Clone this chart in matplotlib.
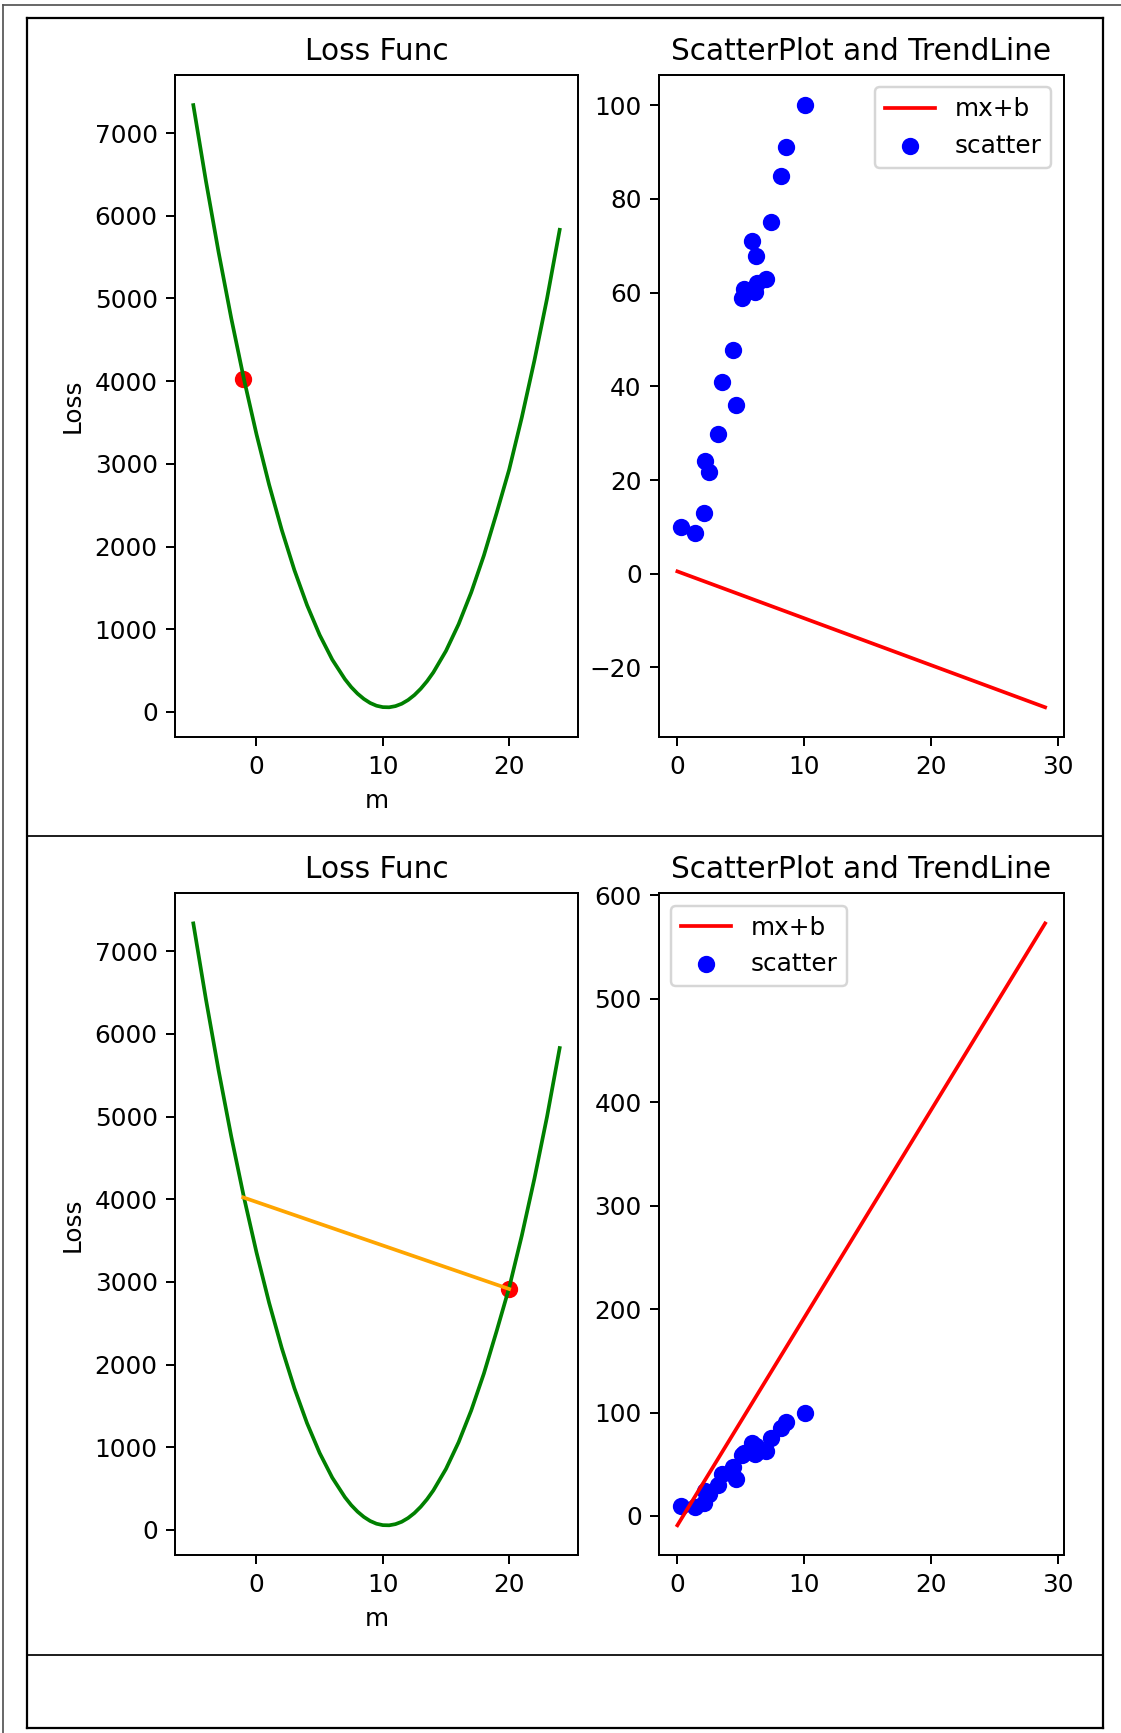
import numpy as np
import matplotlib.pyplot as plt
from matplotlib.lines import Line2D

# Loss egri chizig'i (m bo'yicha) - rasmdan o'qilgan qiymatlar
m_vals = [-5, -4, -3, -2, -1, 0, 1, 2, 3, 4, 5, 6, 7, 7.5, 8, 8.5, 9, 9.5,
          10, 10.5, 11, 11.5, 12, 12.5, 13, 13.5, 14, 15, 16, 17, 18, 19,
          20, 21, 22, 23, 24]
loss_vals = [7338, 6418, 5560, 4763, 4029, 3358, 2748, 2201, 1715, 1292,
             931, 632, 396, 300, 221, 157, 108, 75, 58, 56, 70, 99, 144,
             204, 280, 371, 478, 738, 1061, 1446, 1892, 2401, 2930, 3560,
             4250, 5000, 5830]

# Nuqtalar (scatter)
xs = [0.32, 1.38, 2.09, 2.2, 2.49, 3.2, 3.52, 4.63, 4.37, 5.08,
      5.26, 5.87, 6.19, 6.14, 6.27, 6.98, 7.35, 8.17, 8.6, 10.05]
ys = [9.9, 8.6, 12.9, 24.1, 21.7, 29.8, 40.9, 36.0, 47.8, 58.8,
      60.8, 70.9, 67.7, 60.1, 62.0, 62.9, 75.0, 84.9, 91.0, 100.0]

# 1-qadam: joriy m va loss, trend chizig'i
step1_m, step1_loss = [-1.05], [4023]
line1_x = [0, 29]
line1_y = [0.5, -28.5]

# 2-qadam
step2_m, step2_loss = [20.0], [2915]
path_m = [-1.05, 20.0]
path_loss = [4023, 2915]
line2_x = [0, 29]
line2_y = [-9, 573]

W, H = 1121, 1733
DPI = 178
fig = plt.figure(figsize=(W / DPI, H / DPI), dpi=DPI)


def box(left, top, right, bottom):
    # piksel -> figura koordinatalari
    return [left / W, 1 - bottom / H, (right - left) / W, (bottom - top) / H]


def hline(y, x0, x1, **kw):
    fig.add_artist(Line2D([x0 / W, x1 / W], [1 - y / H, 1 - y / H], **kw))


def vline(x, y0, y1, **kw):
    fig.add_artist(Line2D([x / W, x / W], [1 - y0 / H, 1 - y1 / H], **kw))


# Jadval chegaralari
hline(5.5, 3, W, color="#555555", linewidth=0.7)
vline(3.3, 5.5, H, color="#555555", linewidth=0.7)
hline(17.7, 26.5, 1103.3, color="black", linewidth=0.9)
hline(1728, 26.5, 1103.3, color="black", linewidth=0.9)
vline(26.5, 17.7, 1728, color="black", linewidth=0.9)
vline(1103.3, 17.7, 1728, color="black", linewidth=0.9)
hline(835.8, 26.5, 1103.3, color="black", linewidth=0.7)
hline(1655, 26.5, 1103.3, color="black", linewidth=0.7)

rows = [(75, 737.4), (893.3, 1555.4)]

for i, (top, bottom) in enumerate(rows):
    ax1 = fig.add_axes(box(175, top, 578, bottom))
    ax1.plot(m_vals, loss_vals, color="green")
    if i == 0:
        ax1.scatter(step1_m, step1_loss, color="red")
    else:
        ax1.plot(path_m, path_loss, color="orange")
        ax1.scatter(step2_m, step2_loss, color="red")
    ax1.set_title("Loss Func")
    ax1.set_xlabel("m")
    ax1.set_ylabel("Loss")

    ax2 = fig.add_axes(box(659, top, 1063.5, bottom))
    if i == 0:
        ax2.plot(line1_x, line1_y, color="red", label="mx+b")
    else:
        ax2.plot(line2_x, line2_y, color="red", label="mx+b")
    ax2.scatter(xs, ys, color="blue", label="scatter")
    ax2.set_title("ScatterPlot and TrendLine")
    ax2.legend(loc="upper right" if i == 0 else "upper left")

fig.savefig("out.png", dpi=DPI)
